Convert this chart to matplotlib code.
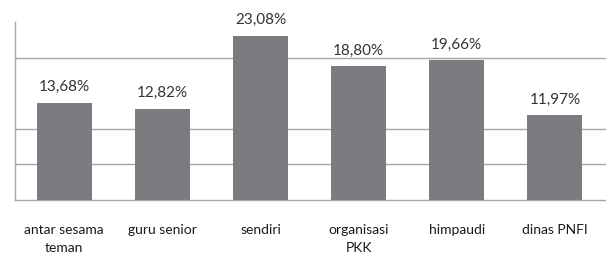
import matplotlib
matplotlib.use('Agg')
import matplotlib.pyplot as plt

# data
categories = ['antar sesama\nteman', 'guru senior', 'sendiri', 'organisasi\nPKK', 'himpaudi', 'dinas PNFI']
values = [13.68, 12.82, 23.08, 18.80, 19.66, 11.97]
value_labels = ['13,68%', '12,82%', '23,08%', '18,80%', '19,66%', '11,97%']
grid_levels = [5, 10, 20]

plt.rcParams['font.family'] = ['Lato', 'DejaVu Sans']

fig = plt.figure(figsize=(6.06, 2.56), dpi=100)
ax = fig.add_axes([0.025, 0.219, 0.975, 0.695])

x = range(len(categories))
bars = ax.bar(x, values, width=0.56, color='#7c7c80', zorder=3)

# garis grid
for g in grid_levels:
    ax.axhline(g, color='#a6a6a6', linewidth=1.0, zorder=1)

for rect, lab in zip(bars, value_labels):
    ax.annotate(lab, (rect.get_x() + rect.get_width() / 2, rect.get_height()),
                xytext=(0, 6), textcoords='offset points', ha='center', va='bottom',
                fontsize=11, color='#333333')

ax.set_xlim(-0.5, 5.52)
ax.set_ylim(0, 25)
ax.set_xticks(list(x))
ax.set_xticklabels(categories, fontsize=10, color='#1a1a1a', linespacing=1.65, va='top')
ax.tick_params(axis='x', length=0, pad=17)
ax.set_yticks([])

for s in ['top', 'right']:
    ax.spines[s].set_visible(False)
ax.spines['left'].set_color('#a6a6a6')
ax.spines['bottom'].set_color('#a6a6a6')
ax.spines['left'].set_linewidth(1.0)
ax.spines['bottom'].set_linewidth(1.0)

fig.savefig('out.png', dpi=100)
